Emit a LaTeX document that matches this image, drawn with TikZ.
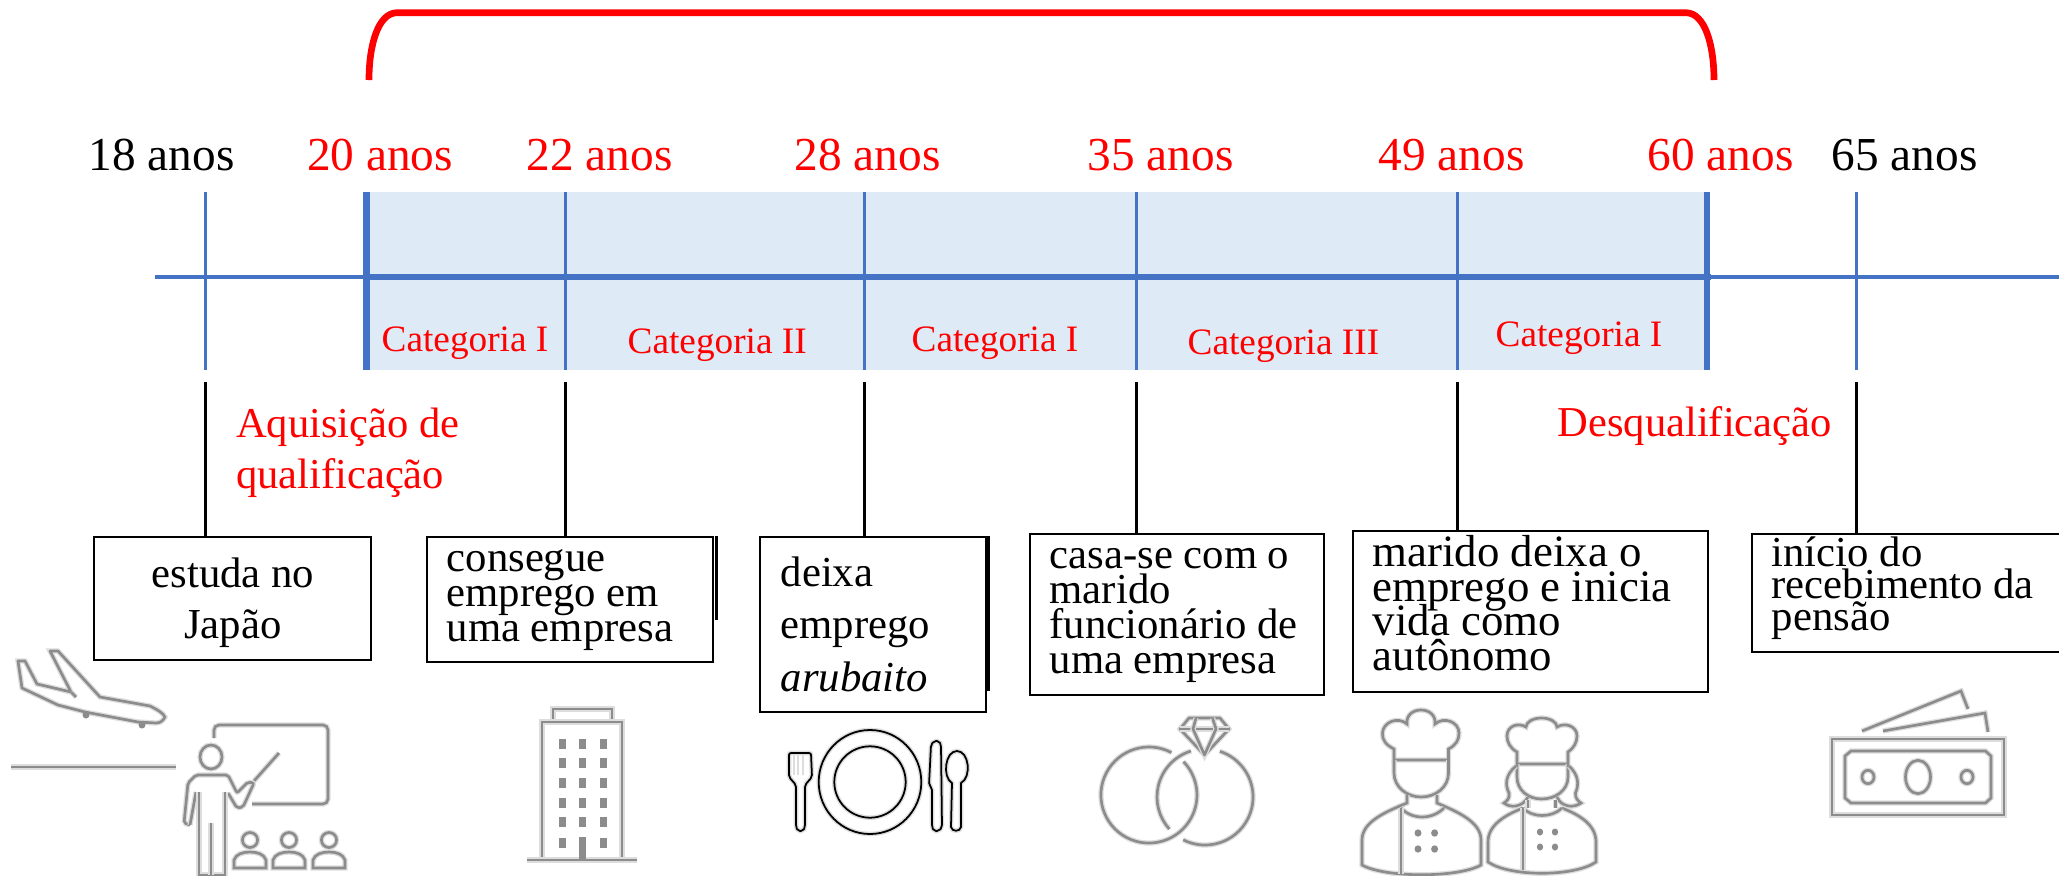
\documentclass[tikz,border=0pt]{standalone}
\usepackage{fontspec}
\setmainfont{Liberation Serif}
\usetikzlibrary{fit}
\lineskiplimit=-20pt
\newcommand{\evtfont}[1]{\fontsize{12.15pt}{#1}\selectfont}
\definecolor{lineblue}{HTML}{4472C4}
\definecolor{bandblue}{HTML}{DEEAF6}
\definecolor{icongray}{HTML}{8C8C8C}
\definecolor{iconhalo}{HTML}{DDDDDD}
\tikzset{
  agelabel/.style={anchor=base west,inner sep=0pt,font=\fontsize{13.45pt}{16pt}\selectfont},
  catlabel/.style={anchor=base west,inner sep=0pt,text=red,font=\fontsize{10.6pt}{13pt}\selectfont},
  redlabel/.style={anchor=base west,inner sep=0pt,text=red,align=left,font=\fontsize{12.1pt}{14.3pt}\selectfont},
  evtbox/.style={draw=black,line width=0.75pt,inner sep=0pt,rectangle},
  evttext/.style={anchor=base west,inner sep=0pt,align=left},
  thinblue/.style={draw=lineblue,line width=0.95pt},
  thickblue/.style={draw=lineblue,line width=1.8pt},
  drop/.style={draw=black,line width=0.85pt},
  icon/.style={draw=icongray,line width=0.75pt,preaction={draw=iconhalo,line width=1.5pt}},
  iconblack/.style={draw=black,line width=0.5pt,preaction={draw=iconhalo,line width=1.3pt}},
  dotfill/.style={fill=icongray,draw=none}
}
\begin{document}
\begin{tikzpicture}[x=0.01cm,y=-0.01cm]
  \useasboundingbox (0,0) rectangle (2059,875);
  % band and time line
  \fill[bandblue] (363,192) rectangle (1710,370);
  \coordinate (lineL) at (155,277);
  \coordinate (lineR) at (2059,277);
  \coordinate (bandL) at (366.5,277);
  \coordinate (bandR) at (1711,277);
  \draw[thinblue] (lineL) -- (lineR);
  \draw[draw=lineblue,line width=1.85pt] (bandL) -- (bandR);
  \foreach \name/\xpos in {a18/205.5,a22/565.5,a28/864.5,a35/1136.5,a49/1457.5,a65/1856.5}{
    \coordinate (\name top) at (\xpos,192);
    \coordinate (\name bot) at (\xpos,370);
    \coordinate (\name drop) at (\xpos,382);
    \draw[thinblue] (\name top) -- (\name bot);
  }
  \coordinate (a20top) at (366.5,192);
  \coordinate (a20bot) at (366.5,370);
  \coordinate (a60top) at (1707,192);
  \coordinate (a60bot) at (1707,370);
  \draw[thickblue] (a20top) -- (a20bot);
  \draw[thickblue] (a60top) -- (a60bot);
  % red bracket
  \coordinate (brL) at (369,80);
  \coordinate (brR) at (1714,80);
  \draw[red,line width=1.9pt] (brL) .. controls (369,45) and (378,13) .. (397,12.7) -- (1686,12.7) .. controls (1705,13) and (1714,45) .. (brR);
  % ages
  \node (l18) [agelabel] at (88,170) {18 anos};
  \node (l20) [agelabel,text=red] at (306.5,170) {20 anos};
  \node (l22) [agelabel,text=red] at (526,170) {22 anos};
  \node (l28) [agelabel,text=red] at (794,170) {28 anos};
  \node (l35) [agelabel,text=red] at (1087,170) {35 anos};
  \node (l49) [agelabel,text=red] at (1378,170) {49 anos};
  \node (l60) [agelabel,text=red] at (1647,170) {60 anos};
  \node (l65) [agelabel] at (1831,170) {65 anos};
  % categories
  \node (c1) [catlabel] at (381,351) {Categoria I};
  \node (c2) [catlabel] at (627,353) {Categoria II};
  \node (c3) [catlabel] at (911,351) {Categoria I};
  \node (c4) [catlabel] at (1187,354) {Categoria III};
  \node (c5) [catlabel] at (1495,346) {Categoria I};
  \node (quali) [redlabel] at (235.5,488) {Aquisição de\\qualificação};
  \node (desq) [redlabel] at (1557,436) {Desqualificação};
  % boxes
  \node (box1) [evtbox,fit={(94,537) (371,660)}] {};
  \node (box2) [evtbox,fit={(427,537) (713,662)}] {};
  \node (box3) [evtbox,fit={(760,537) (986,712)}] {};
  \node (box4) [evtbox,fit={(1030,534) (1324,695)}] {};
  \node (box5) [evtbox,fit={(1353,531) (1708,692)}] {};
  \node (box6) [evtbox,fit={(1752,534) (2065,652)}] {};
  \draw[drop] ([xshift=0.02cm]box2.north east) -- ++(0,84);
  \draw[drop] ([xshift=0.01cm]box3.north east) -- ++(0,155);
  \draw[drop] (a18drop) -- (a18drop |- box1.north);
  \draw[drop] (a22drop) -- (a22drop |- box2.north);
  \draw[drop] (a28drop) -- (a28drop |- box3.north);
  \draw[drop] (a35drop) -- (a35drop |- box4.north);
  \draw[drop] (a49drop) -- (a49drop |- box5.north);
  \draw[drop] (a65drop) -- (a65drop |- box6.north);
  \node (txt1) [evttext,align=center,font=\evtfont{14.5pt}] at (151,638) {estuda no\\Japão};
  \node (txt2) [evttext,font=\evtfont{9.85pt}] at (446,641) {consegue\\emprego em\\uma empresa};
  \node (txt3) [evttext,font=\evtfont{14.8pt}] at (780,691) {deixa\\emprego\\\textit{arubaito}};
  \node (txt4) [evttext,font=\evtfont{9.9pt}] at (1049,673) {casa-se com o\\marido\\funcionário de\\uma empresa};
  \node (txt5) [evttext,font=\fontsize{12.75pt}{9.8pt}\selectfont] at (1372,670) {marido deixa o\\emprego e inicia\\vida como\\autônomo};
  \node (txt6) [evttext,font=\evtfont{9.1pt}] at (1771,630) {início do\\recebimento da\\pensão};
  % plane and runway
  \draw[icon,line join=round] (18,661) -- (25,661) -- (37,684) -- (71,692) -- (50,651) -- (58,651) -- (100,697) -- (150,706) .. controls (158,710) and (163,713) .. (165,717) .. controls (163,721) and (160,723) .. (156,723) -- (138,722) -- (85,712) -- (58,705) -- (22,688) -- cycle;
  \draw[icon] (71,692) -- (76,697);
  \fill[dotfill] (86,715) circle [radius=3.5];
  \fill[dotfill] (142,725) circle [radius=3.5];
  \draw[icon] (11,767) -- (176,767);
  % teacher
  \draw[icon,rounded corners=0.05cm] (214,738) -- (214,725) -- (328,725) -- (328,804) -- (252,804);
  \draw[icon] (211,757) ellipse [x radius=11,y radius=12];
  \draw[icon] (279,753) -- (254,781);
  \draw[icon,rounded corners=0.02cm] (190,825) -- (184,823) -- (188,783) -- (196,775) -- (228,775) -- (237,793) -- (248,782) -- (254,783) -- (243,807) -- (237,808) -- (228,793);
  \draw[icon] (190,825) -- (196,792);
  \draw[icon] (199,792) -- (199,875) -- (225,875) -- (225,792);
  \draw[icon] (211,823) -- (211,875);
  \foreach \xpos in {250,289,329}{
    \draw[icon] (\xpos,840) ellipse [x radius=7.6,y radius=7.5];
    \draw[icon] (\xpos-16,868) -- (\xpos-16,860) .. controls (\xpos-14,854) and (\xpos-7,852) .. (\xpos,852) .. controls (\xpos+7,852) and (\xpos+14,854) .. (\xpos+16,860) -- (\xpos+16,868) -- cycle;
  }
  % building
  \draw[icon] (553,720) -- (553,709) -- (612,709) -- (612,720);
  \draw[icon] (542,859) -- (542,722) -- (622,722) -- (622,859);
  \draw[icon] (527,860) -- (637,860);
  \foreach \ypos in {744,763,783,803,822,843}{
    \foreach \xpos in {562.5,582,603}{
      \fill[dotfill] (\xpos-3.5,\ypos-5) rectangle (\xpos+3.5,\ypos+5);
    }
  }
  \fill[dotfill] (579,837) rectangle (586,859);
  % plate and cutlery
  \draw[iconblack] (870,782) ellipse [x radius=51.3,y radius=52];
  \draw[iconblack] (870,782) ellipse [x radius=35.7,y radius=35.7];
  \draw[iconblack,rounded corners=0.02cm] (789,753) -- (811,753) -- (812,777) -- (805,785) -- (805,827) -- (803,831) -- (798,831) -- (796,827) -- (796,785) -- (789,777) -- cycle;
  \foreach \xpos in {794,798,803}{
    \draw[iconhalo,line width=0.8pt] (\xpos,755) -- (\xpos,775);
  }
  \draw[iconblack,rounded corners=0.02cm] (931,745) -- (934,741) -- (939,741) -- (941,745) -- (942,827) -- (939,831) -- (934,831) -- (932,827) -- (932,788) -- (929,785) -- cycle;
  \draw[iconblack] (952,783) .. controls (942,777) and (945,751) .. (957,751) .. controls (969,751) and (972,777) .. (961,783) -- (961,827) .. controls (960,832) and (952,832) .. (951,827) -- cycle;
  % rings
  \draw[icon] (1171.5,752.6) arc [start angle=62,end angle=404,radius=0.48cm];
  \draw[icon] (1191,751) arc [start angle=107,end angle=222,radius=0.48cm];
  \draw[icon] (1183.2,839.8) arc [start angle=243,end angle=432,radius=0.48cm];
  \draw[icon,line join=round] (1180,729) -- (1189,718) -- (1220,718) -- (1229,729) -- (1204.5,755) -- cycle;
  \draw[icon] (1180,729) -- (1229,729);
  \draw[icon,line join=round] (1196,718) -- (1193,729) -- (1204.5,755) -- (1216,729) -- (1212.5,718);
  % chef
  \draw[icon] (1394,760) -- (1394,749) .. controls (1386,745) and (1382,740) .. (1382.5,733) .. controls (1383,722) and (1398,716) .. (1407,724) .. controls (1406,715) and (1413,710) .. (1421,710) .. controls (1429,710) and (1436,715) .. (1435,724) .. controls (1444,716) and (1459,722) .. (1459,733) .. controls (1459,740) and (1456,745) .. (1448.5,749) -- (1448.5,760) -- cycle;
  \draw[icon] (1394,760) -- (1394,773) .. controls (1394,787) and (1407,797) .. (1421,797) .. controls (1436,797) and (1448.5,787) .. (1448.5,773) -- (1448.5,760);
  \draw[icon] (1407,795) -- (1407,803) .. controls (1385,812) and (1362,822) .. (1362,840) -- (1362,865) .. controls (1385,878) and (1458,878) .. (1481,865) -- (1481,840) .. controls (1481,822) and (1458,812) .. (1437,803) -- (1437,795);
  \draw[icon] (1401,808) .. controls (1412,820) and (1432,820) .. (1444,808);
  \draw[icon] (1401,808) -- (1401,874);
  \foreach \xpos in {1418,1434.6}{
    \foreach \ypos in {833,849}{
      \fill[dotfill] (\xpos,\ypos) ellipse [x radius=3.5,y radius=3.7];
    }
  }
  % second chef
  \draw[icon] (1517,764) -- (1517,752) .. controls (1510,748) and (1507,742) .. (1507,736) .. controls (1507,726) and (1518,722) .. (1526,727) .. controls (1526,722) and (1533,718) .. (1541.5,718) .. controls (1550,718) and (1557,722) .. (1557,727) .. controls (1565,722) and (1577,726) .. (1577,736) .. controls (1577,742) and (1574,748) .. (1568,752) -- (1568,764) -- cycle;
  \draw[icon] (1517,764) -- (1517,777) .. controls (1517,790) and (1528,799) .. (1541.5,799) .. controls (1556,799) and (1568,790) .. (1568,777) -- (1568,764);
  \draw[icon] (1516,766) .. controls (1505,775) and (1505,785) .. (1509,793) .. controls (1510,798) and (1507,801) .. (1504,803) .. controls (1510,808) and (1522,808) .. (1528,797);
  \draw[icon] (1569,766) .. controls (1579,775) and (1579,785) .. (1575.5,793) .. controls (1575,798) and (1578,801) .. (1581,803) .. controls (1574,808) and (1562,808) .. (1557,797);
  \draw[icon] (1528,800) -- (1528,808);
  \draw[icon] (1555.5,800) -- (1555.5,808);
  \draw[icon] (1523,808) .. controls (1505,815) and (1488,825) .. (1488,842) -- (1488,862) .. controls (1510,877) and (1574,877) .. (1596,862) -- (1596,842) .. controls (1596,825) and (1580,815) .. (1562,808);
  \draw[icon] (1523,808) .. controls (1532,818) and (1552,818) .. (1562,808);
  \draw[icon] (1523,808) -- (1523,870);
  \foreach \xpos in {1540,1555}{
    \foreach \ypos in {832,847}{
      \fill[dotfill] (\xpos,\ypos) ellipse [x radius=3.2,y radius=3.5];
    }
  }
  % notes
  \draw[icon,preaction={draw=iconhalo,line width=1.9pt}] (1832,739) rectangle (2004,815);
  \draw[icon] (1851,751) -- (1985.5,751) -- (1991,756) -- (1991,798) -- (1985.5,803) -- (1851,803) -- (1845,798) -- (1845,756) -- cycle;
  \draw[icon] (1918,777) ellipse [x radius=12.5,y radius=16.7];
  \draw[icon] (1868,777) ellipse [x radius=6,y radius=6.7];
  \draw[icon] (1967,777) ellipse [x radius=6,y radius=6.7];
  \draw[icon] (1862,731) -- (1961,691) -- (1968,709);
  \draw[icon] (1883,731) -- (1985,713) -- (1988,732);
\end{tikzpicture}
\end{document}
